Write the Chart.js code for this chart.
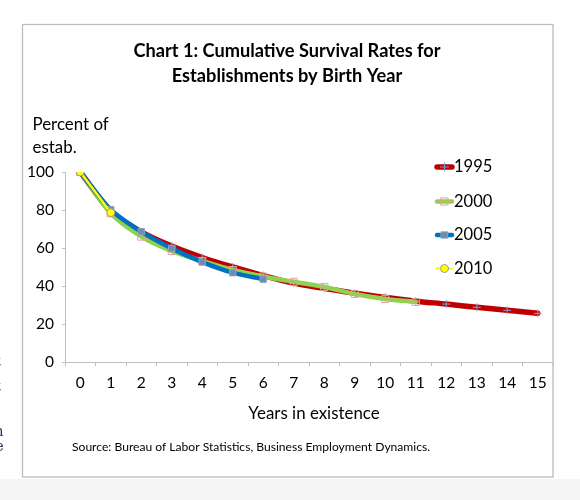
<!DOCTYPE html>
<html>
<head>
<meta charset="utf-8">
<script src="https://cdn.jsdelivr.net/npm/chart.js@4/dist/chart.umd.min.js"></script>
<style>
  html, body { margin: 0; padding: 0; background: #ffffff; }
  #wrap { position: relative; width: 580px; height: 500px; overflow: hidden; }
  #c { position: absolute; left: 0; top: 0; }
  .frag { position: absolute; font-family: "DejaVu Serif", "Liberation Serif", serif; font-size: 15px; color: #2b3f5c; white-space: nowrap; }
</style>
</head>
<body>
<div id="wrap">
  <canvas id="c" width="580" height="500"></canvas>
  <div class="frag" style="left:-5px;top:352px;color:#5a78a8;">t</div>
  <div class="frag" style="left:-5px;top:377px;color:#5a78a8;">t</div>
  <div class="frag" style="left:-6px;top:422px;">n</div>
  <div class="frag" style="left:-5px;top:437px;">e</div>
</div>
<script>
// ---- data ----
const years = ['0','1','2','3','4','5','6','7','8','9','10','11','12','13','14','15'];
const s1995 = [100, 79.5, 68.5, 61, 55, 50, 45.5, 41.5, 38.8, 36.2, 34, 32, 30.5, 28.8, 27.2, 25.6];
const s2000 = [100, 78.3, 66, 58.4, 53.2, 48.4, 45, 42.2, 39.5, 35.8, 33.2, 31.6, null, null, null, null];
const s2005 = [100, 80.2, 68.6, 59.8, 52.6, 47, 43.6, null, null, null, null, null, null, null, null, null];
const s2010 = [100, 78.6, null, null, null, null, null, null, null, null, null, null, null, null, null, null];
const seriesNames = ['1995', '2000', '2005', '2010'];
const yTicks = [0, 20, 40, 60, 80, 100];
const titleLines = ['Chart 1: Cumulative Survival Rates for', 'Establishments by Birth Year'];
const yAxisTitle = ['Percent of', 'estab.'];
const xAxisTitle = 'Years in existence';
const sourceText = 'Source: Bureau of Labor Statistics, Business Employment Dynamics.';

const FONT = 'Lato, "Open Sans", sans-serif';

const datasets = [
  { label: seriesNames[0], data: s1995, borderColor: '#c00000', backgroundColor: '#c00000', borderWidth: 5.5,
    pointStyle: 'cross', pointRadius: 4, pointBorderColor: '#7f9fd0', pointBackgroundColor: '#7f9fd0', pointBorderWidth: 1, order: 3 },
  { label: seriesNames[1], data: s2000, borderColor: '#92d050', backgroundColor: '#92d050', borderWidth: 4.5,
    pointStyle: 'rect', pointRadius: 5, pointBorderColor: '#e8a0a0', pointBackgroundColor: 'rgba(0,0,0,0)', pointBorderWidth: 1, order: 2 },
  { label: seriesNames[2], data: s2005, borderColor: '#0070c0', backgroundColor: '#0070c0', borderWidth: 4.5,
    pointStyle: 'rect', pointRadius: 4.5, pointBorderColor: '#8fa3c0', pointBackgroundColor: '#6f8cae', pointBorderWidth: 1, order: 1 },
  { label: seriesNames[3], data: s2010, borderColor: '#ffff00', backgroundColor: '#ffff00', borderWidth: 2.5,
    pointStyle: 'circle', pointRadius: 4, pointBorderColor: '#9a9aa8', pointBackgroundColor: '#ffff00', pointBorderWidth: 1, order: 0 }
];

const decor = {
  id: 'decor',
  beforeDraw(chart) {
    const ctx = chart.ctx;
    ctx.save();
    ctx.fillStyle = '#ffffff';
    ctx.fillRect(0, 0, 580, 500);
    ctx.fillStyle = '#f5f5f5';
    ctx.fillRect(0, 479, 580, 21);
    ctx.strokeStyle = '#bcbcbc';
    ctx.lineWidth = 1.3;
    ctx.strokeRect(22.5, 24.5, 530.5, 452.5);
    ctx.restore();
  },
  afterDraw(chart) {
    const ctx = chart.ctx;
    ctx.save();
    ctx.fillStyle = '#000000';
    ctx.textBaseline = 'middle';
    // title
    ctx.font = 'bold 18.2px ' + FONT;
    ctx.textAlign = 'center';
    ctx.fillText(titleLines[0], 287, 51.5);
    ctx.fillText(titleLines[1], 287, 76.5);
    // y axis title
    ctx.font = '16.9px ' + FONT;
    ctx.textAlign = 'left';
    ctx.fillText(yAxisTitle[0], 32.5, 124.5);
    ctx.fillText(yAxisTitle[1], 32.5, 147.5);
    // x axis title
    ctx.font = '16.9px ' + FONT;
    ctx.textAlign = 'center';
    ctx.fillText(xAxisTitle, 314, 414);
    // source
    ctx.font = '12.1px ' + FONT;
    ctx.textAlign = 'left';
    ctx.fillText(sourceText, 72, 447);
    // legend
    const ys = [167, 201.5, 235, 268.5];
    chart.data.datasets.forEach((ds, i) => {
      const y = ys[i];
      ctx.strokeStyle = ds.borderColor;
      ctx.lineWidth = ds.borderWidth;
      ctx.lineCap = 'round';
      ctx.beginPath();
      ctx.moveTo(437, y);
      ctx.lineTo(452, y);
      ctx.stroke();
      if (Chart.helpers && Chart.helpers.drawPoint) {
        ctx.fillStyle = ds.pointBackgroundColor;
        ctx.strokeStyle = ds.pointBorderColor;
        ctx.lineWidth = ds.pointBorderWidth;
        Chart.helpers.drawPoint(ctx, { pointStyle: ds.pointStyle, radius: ds.pointRadius, rotation: 0, borderWidth: ds.pointBorderWidth }, 444.5, y);
      }
      ctx.fillStyle = '#000000';
      ctx.font = '16.5px ' + FONT;
      ctx.textAlign = 'left';
      ctx.fillText(ds.label, 454, y);
    });
    ctx.restore();
  }
};

new Chart(document.getElementById('c'), {
  type: 'line',
  data: { labels: years, datasets: datasets },
  options: {
    responsive: false,
    animation: false,
    devicePixelRatio: 1,
    spanGaps: false,
    layout: { padding: { left: 22, top: 172, right: 27, bottom: 108 } },
    elements: { line: { tension: 0.3, borderCapStyle: 'round', borderJoinStyle: 'round' } },
    plugins: { legend: { display: false }, tooltip: { enabled: false }, title: { display: false } },
    scales: {
      x: {
        type: 'category',
        offset: true,
        afterFit(scale) { scale.height = 30; },
        grid: { offset: true, drawOnChartArea: false, drawTicks: true, tickLength: 4, color: '#bfbfbf', lineWidth: 1 },
        border: { display: true, color: '#bfbfbf', width: 1 },
        ticks: { color: '#000', padding: 8, autoSkip: false, maxRotation: 0, font: { family: FONT, size: 15.5 } }
      },
      y: {
        min: 0, max: 100,
        afterFit(scale) { scale.width = 43; },
        afterBuildTicks(scale) { scale.ticks = yTicks.map(v => ({ value: v })); },
        grid: { drawOnChartArea: false, drawTicks: true, tickLength: 3, color: '#bfbfbf', lineWidth: 1 },
        border: { display: true, color: '#bfbfbf', width: 1 },
        ticks: { color: '#000', padding: 8, font: { family: FONT, size: 15.5 } }
      }
    }
  },
  plugins: [decor]
});
</script>
</body>
</html>
